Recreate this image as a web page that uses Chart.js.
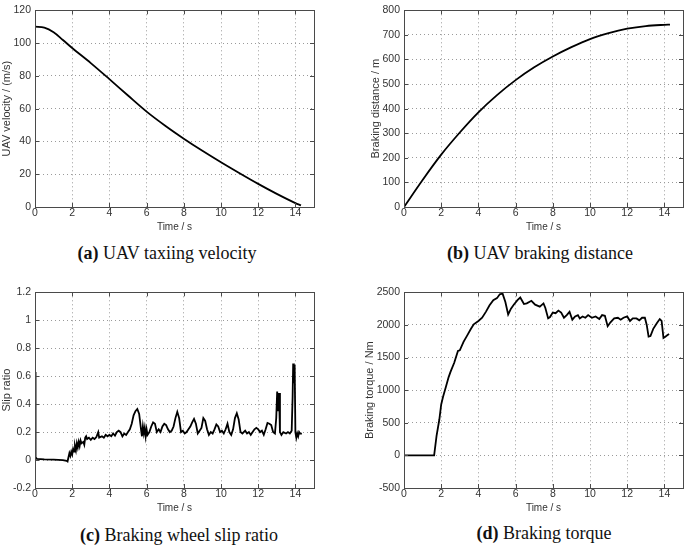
<!DOCTYPE html>
<html>
<head>
<meta charset="utf-8">
<script src="https://cdn.jsdelivr.net/npm/chart.js@4.4.1/dist/chart.umd.min.js"></script>
<style>
  body { margin: 0; background: #fff; }
  #wadah { position: relative; width: 685px; height: 546px; overflow: hidden; }
  canvas { position: absolute; }
  .judul {
    position: absolute; text-align: center; line-height: 20px;
    font-family: "Liberation Serif", "Times New Roman", serif; font-size: 18px; color: #111;
  }
</style>
</head>
<body>
<div id="wadah">
  <canvas id="grafik-a" width="330" height="235" style="left:0px;top:0px"></canvas>
  <canvas id="grafik-b" width="316" height="235" style="left:369px;top:0px"></canvas>
  <canvas id="grafik-c" width="330" height="234" style="left:0px;top:282px"></canvas>
  <canvas id="grafik-d" width="322" height="234" style="left:363px;top:282px"></canvas>
  <div class="judul" style="left:0px;top:243px;width:334px"><b>(a)</b> UAV taxiing velocity</div>
  <div class="judul" style="left:395px;top:243px;width:290px"><b>(b)</b> UAV braking distance</div>
  <div class="judul" style="left:0px;top:525px;width:358px"><b>(c)</b> Braking wheel slip ratio</div>
  <div class="judul" style="left:403px;top:523px;width:282px"><b>(d)</b> Braking torque</div>
</div>
<script>
// Data kecepatan taxi UAV (m/s)
const waktuKecepatan = [0, 0.5, 1, 1.5, 2, 3, 4, 5, 6, 7, 8, 9, 10, 11, 12, 13, 14, 14.3];
const nilaiKecepatan = [110, 109.4, 106.6, 101.9, 97, 87.8, 78, 68, 58.2, 49.6, 41.7, 34.3, 27.3, 20.6, 14.1, 8, 2.4, 1];

// Data jarak pengereman (m)
const waktuJarak = [0, 1, 2, 3, 4, 5, 6, 7, 8, 9, 10, 11, 12, 13, 14, 14.3];
const nilaiJarak = [0, 110, 213, 303, 385, 455, 516, 568, 612, 650, 683, 707, 725, 736, 741, 742];

// Data rasio slip roda
const waktuSlip = [
  0, 0.02, 0.04, 0.1, 0.5, 1.0, 1.5, 1.7, 1.75, 1.8, 1.85, 1.9, 1.95, 2.0, 2.05, 2.1, 2.15, 2.2, 2.25, 2.3,
  2.35, 2.4, 2.45, 2.5, 2.6, 2.65, 2.7, 2.75, 2.8, 2.9, 3.0, 3.1, 3.2, 3.3, 3.4, 3.45, 3.6, 3.7, 3.8, 3.9,
  4.0, 4.1, 4.2, 4.3, 4.4, 4.5, 4.6, 4.7, 4.8, 4.9, 5.0, 5.1, 5.2, 5.3, 5.4, 5.5, 5.6, 5.7, 5.75, 5.8,
  5.85, 5.9, 5.95, 6.0, 6.05, 6.15, 6.25, 6.35, 6.45, 6.55, 6.65, 6.75, 6.85, 6.95, 7.05, 7.15, 7.25, 7.35, 7.45, 7.55,
  7.65, 7.75, 7.85, 7.95, 8.05, 8.15, 8.25, 8.35, 8.45, 8.55, 8.65, 8.75, 8.85, 8.95, 9.05, 9.15, 9.25, 9.35, 9.45, 9.55,
  9.65, 9.75, 9.85, 9.95, 10.05, 10.15, 10.25, 10.35, 10.45, 10.55, 10.65, 10.75, 10.85, 10.95, 11.05, 11.15, 11.3, 11.4, 11.5, 11.6,
  11.7, 11.8, 11.9, 12.0, 12.1, 12.2, 12.3, 12.4, 12.5, 12.6, 12.7, 12.8, 12.9, 12.97, 13.02, 13.07, 13.12, 13.17, 13.25, 13.35,
  13.5, 13.6, 13.7, 13.8, 13.85, 13.88, 13.92, 13.96, 14.0, 14.05, 14.1, 14.15, 14.2, 14.25, 14.3
];
const nilaiSlip = [
  0.63, 0.25, 0.02, 0.008, 0.005, 0.003, 0.0, -0.005, -0.01, 0.02, 0.05, 0.03, 0.06, 0.04, 0.08, 0.06, 0.10, 0.07, 0.12, 0.09,
  0.13, 0.10, 0.14, 0.12, 0.13, 0.11, 0.16, 0.17, 0.15, 0.16, 0.145, 0.16, 0.15, 0.165, 0.2, 0.16, 0.17, 0.16, 0.18, 0.17,
  0.18, 0.17, 0.19, 0.175, 0.2, 0.21, 0.2, 0.17, 0.19, 0.18, 0.2, 0.22, 0.26, 0.32, 0.35, 0.365, 0.33, 0.22, 0.17, 0.24,
  0.19, 0.23, 0.17, 0.22, 0.18, 0.2, 0.24, 0.27, 0.26, 0.2, 0.22, 0.2, 0.24, 0.26, 0.25, 0.22, 0.2, 0.21, 0.24, 0.3,
  0.345, 0.3, 0.2, 0.21, 0.19, 0.2, 0.22, 0.24, 0.27, 0.295, 0.26, 0.19, 0.21, 0.23, 0.3, 0.28, 0.22, 0.18, 0.2, 0.19,
  0.22, 0.255, 0.24, 0.2, 0.21, 0.19, 0.22, 0.26, 0.2, 0.18, 0.22, 0.3, 0.335, 0.29, 0.2, 0.19, 0.21, 0.19, 0.2, 0.18,
  0.2, 0.22, 0.23, 0.22, 0.2, 0.21, 0.18, 0.22, 0.265, 0.26, 0.25, 0.2, 0.19, 0.3, 0.49, 0.35, 0.48, 0.2, 0.18, 0.2,
  0.19, 0.2, 0.19, 0.21, 0.45, 0.69, 0.55, 0.68, 0.2, 0.16, 0.19, 0.17, 0.2, 0.19, 0.195
];

// Data torsi pengereman (Nm)
const waktuTorsi = [
  0, 1.62, 1.75, 1.9, 2.0, 2.1, 2.25, 2.4, 2.5, 2.7, 2.9, 3.0, 3.2, 3.4, 3.6, 3.75, 4.0, 4.2, 4.4, 4.6,
  4.8, 5.0, 5.15, 5.3, 5.45, 5.6, 5.75, 5.9, 6.1, 6.25, 6.45, 6.6, 6.85, 7.05, 7.3, 7.5, 7.6, 7.75, 7.85, 8.0,
  8.15, 8.3, 8.45, 8.6, 8.75, 8.9, 9.05, 9.2, 9.35, 9.45, 9.6, 9.75, 9.9, 10.1, 10.3, 10.5, 10.65, 10.8, 10.95, 11.1,
  11.3, 11.5, 11.65, 11.8, 12.0, 12.15, 12.3, 12.5, 12.65, 12.8, 12.95, 13.05, 13.15, 13.25, 13.4, 13.6, 13.75, 13.85, 13.95, 14.05,
  14.15, 14.25
];
const nilaiTorsi = [
  0, 0, 300, 550, 780, 900, 1050, 1200, 1280, 1420, 1600, 1610, 1740, 1840, 1940, 2010, 2060, 2110, 2200, 2300,
  2380, 2410, 2470, 2480, 2350, 2160, 2250, 2310, 2380, 2420, 2320, 2330, 2370, 2310, 2280, 2330, 2260, 2100, 2120, 2190,
  2180, 2220, 2190, 2110, 2150, 2200, 2080, 2130, 2150, 2100, 2130, 2110, 2150, 2110, 2130, 2090, 2150, 2140, 1980, 2040,
  2100, 2110, 2080, 2110, 2130, 2060, 2100, 2100, 2070, 2110, 2110, 2000, 1820, 1830, 1940, 2030, 2090, 2060, 1800, 1820,
  1840, 1860
];

const hurufSumbu = '"Liberation Sans", Arial, sans-serif';

// Format label tick tanpa pemisah ribuan dan tanpa "-0.0"
function formatTick(nilai) {
  const bulat = Math.round(nilai * 1000) / 1000;
  return String(bulat === 0 ? 0 : bulat);
}

// Plugin untuk bingkai kotak dan tanda tick ke dalam (gaya MATLAB)
const pluginBingkai = {
  id: 'bingkai',
  afterDatasetsDraw(chart) {
    const { ctx, chartArea: a, scales } = chart;
    ctx.save();
    ctx.strokeStyle = '#4a4a4a';
    ctx.lineWidth = 1;
    ctx.strokeRect(Math.round(a.left) + 0.5, Math.round(a.top) + 0.5,
      Math.round(a.right - a.left), Math.round(a.bottom - a.top));
    ctx.beginPath();
    scales.x.ticks.forEach((t) => {
      const px = Math.round(scales.x.getPixelForValue(t.value)) + 0.5;
      ctx.moveTo(px, a.bottom); ctx.lineTo(px, a.bottom - 4);
      ctx.moveTo(px, a.top); ctx.lineTo(px, a.top + 4);
    });
    scales.y.ticks.forEach((t) => {
      const py = Math.round(scales.y.getPixelForValue(t.value)) + 0.5;
      ctx.moveTo(a.left, py); ctx.lineTo(a.left + 4, py);
      ctx.moveTo(a.right, py); ctx.lineTo(a.right - 4, py);
    });
    ctx.stroke();
    ctx.restore();
  }
};

// Fungsi umum untuk membuat satu grafik
function buatGrafik(idCanvas, waktu, nilai, opsi) {
  const canvas = document.getElementById(idCanvas);
  if (!canvas) {
    console.error('Canvas tidak ditemukan: ' + idCanvas);
    return;
  }
  const titik = waktu.map((t, i) => ({ x: t, y: nilai[i] }));
  new Chart(canvas.getContext('2d'), {
    type: 'line',
    data: {
      datasets: [{
        data: titik,
        borderColor: '#000',
        borderWidth: 1.8,
        pointRadius: 0,
        cubicInterpolationMode: opsi.halus ? 'monotone' : 'default',
        tension: 0,
        fill: false
      }]
    },
    options: {
      responsive: false,
      animation: false,
      layout: { padding: { top: opsi.atas, right: opsi.kanan, left: 0, bottom: 0 } },
      plugins: { legend: { display: false }, tooltip: { enabled: false } },
      scales: {
        x: {
          type: 'linear',
          min: 0,
          max: 15,
          afterFit: (s) => { s.height = 28; },
          ticks: {
            stepSize: 2, includeBounds: false, padding: 0, maxRotation: 0,
            color: '#333', font: { family: hurufSumbu, size: 10.5 },
            callback: formatTick
          },
          grid: { color: '#9a9a9a', lineWidth: 1, drawTicks: false },
          border: { display: false, dash: [1, 3] },
          title: {
            display: true, text: 'Time / s', color: '#333',
            padding: { top: 0, bottom: 2 }, font: { family: hurufSumbu, size: 10 }
          }
        },
        y: {
          min: opsi.min,
          max: opsi.max,
          afterFit: (s) => { s.width = opsi.lebarY; },
          ticks: {
            stepSize: opsi.langkah, padding: 4,
            color: '#333', font: { family: hurufSumbu, size: 10.5 },
            callback: formatTick
          },
          grid: { color: '#9a9a9a', lineWidth: 1, drawTicks: false },
          border: { display: false, dash: [1, 3] },
          title: {
            display: true, text: opsi.judulY, color: '#333',
            padding: 0, font: { family: hurufSumbu, size: 11 }
          }
        }
      }
    },
    plugins: [pluginBingkai]
  });
}

document.addEventListener('DOMContentLoaded', () => {
  try {
    buatGrafik('grafik-a', waktuKecepatan, nilaiKecepatan,
      { halus: true, min: 0, max: 120, langkah: 20, judulY: 'UAV velocity / (m/s)', lebarY: 35, atas: 6, kanan: 16 });
    buatGrafik('grafik-b', waktuJarak, nilaiJarak,
      { halus: true, min: 0, max: 800, langkah: 100, judulY: 'Braking distance / m', lebarY: 35, atas: 6, kanan: 2 });
    buatGrafik('grafik-c', waktuSlip, nilaiSlip,
      { halus: false, min: -0.2, max: 1.2, langkah: 0.2, judulY: 'Slip ratio', lebarY: 35, atas: 7, kanan: 16 });
    buatGrafik('grafik-d', waktuTorsi, nilaiTorsi,
      { halus: false, min: -500, max: 2500, langkah: 500, judulY: 'Braking torque / Nm', lebarY: 41, atas: 7, kanan: 2 });
  } catch (error) {
    console.error('Terjadi kesalahan saat membuat grafik:', error);
  }
});
</script>
</body>
</html>
